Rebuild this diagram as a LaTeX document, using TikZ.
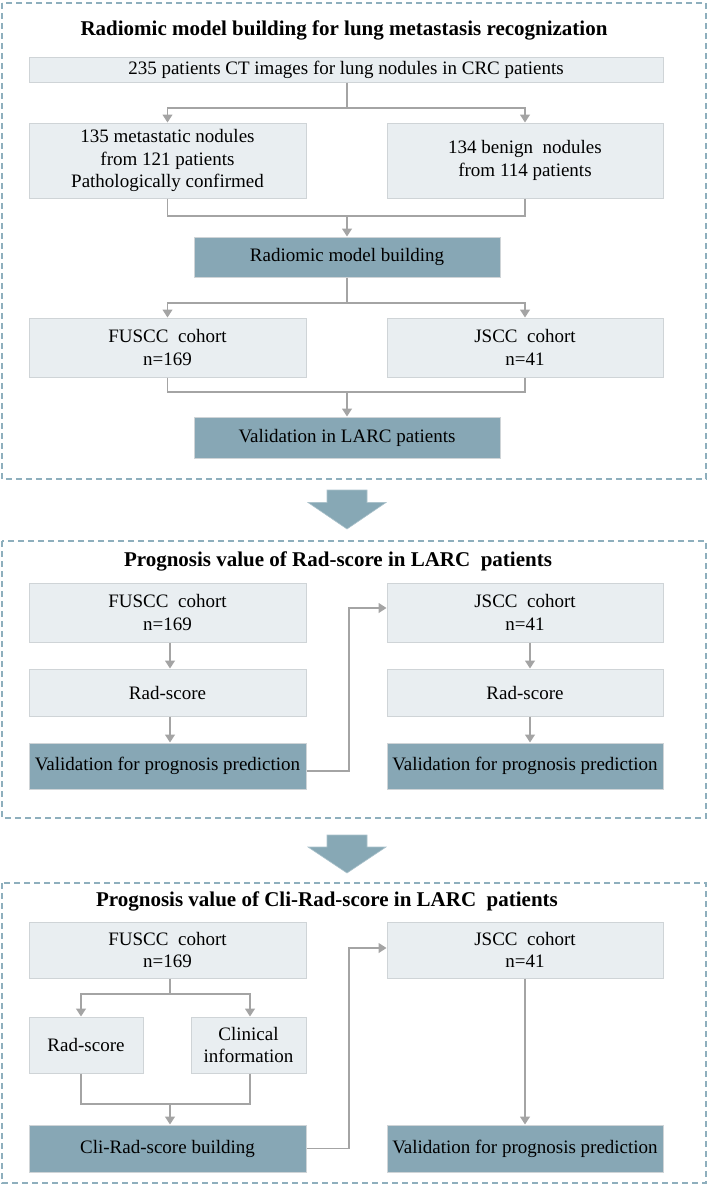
\documentclass[tikz,border=0pt]{standalone}
\usepackage{fontspec}
\setmainfont{Liberation Serif}
\usetikzlibrary{arrows.meta}
\definecolor{lightfill}{HTML}{E9EEF1}
\definecolor{darkfill}{HTML}{87A7B5}
\definecolor{boxline}{HTML}{CFD4D7}
\definecolor{dashcol}{HTML}{8EAFBD}
\definecolor{conngray}{HTML}{A4A4A4}
\definecolor{bigarrow}{HTML}{87A8B5}
\tikzset{
  lbox/.style={draw=boxline, fill=lightfill, line width=1pt, inner sep=0pt, align=center,
    font=\fontsize{19}{22.5}\selectfont},
  dbox/.style={lbox, fill=darkfill},
  conn/.style={draw=conngray, line width=1.2pt},
  arr/.style={conn, -{Triangle[width=10pt,length=8pt]}},
  frame/.style={draw=dashcol, line width=1.3pt, dash pattern=on 6pt off 4pt},
  ttl/.style={font=\fontsize{21}{25}\selectfont\bfseries, inner sep=0pt},
  bigarr/.style={fill=bigarrow, draw=bigarrow!70!white, line width=0.6pt},
}
\begin{document}
\begin{tikzpicture}[x=1pt,y=-1pt]
\useasboundingbox (0,0) rectangle (709,1186);
% ---------- Section 1 ----------
\draw[frame] (2,3) rectangle (706,479);
\node[ttl] (t1) at (344,30) {Radiomic model building for lung metastasis recognization};
\node[lbox, minimum width=634pt, minimum height=25pt] (top) at (346,69.5) {235 patients CT images for lung nodules in CRC patients};
\node[lbox, minimum width=277pt, minimum height=75pt] (meta) at (167.5,160.5) {135 metastatic nodules\\from 121 patients\\Pathologically confirmed};
\node[lbox, minimum width=276pt, minimum height=75pt] (benign) at (525,160.5) {134 benign\ \ nodules\\from 114 patients};
\node[dbox, minimum width=306pt, minimum height=40pt] (radb) at (347,257) {Radiomic model building};
\node[lbox, minimum width=277pt, minimum height=59pt] (fus1) at (167.5,347.5) {FUSCC\ \ cohort\\n=169};
\node[lbox, minimum width=276pt, minimum height=59pt] (js1) at (525,347.5) {JSCC\ \ cohort\\n=41};
\node[dbox, minimum width=306pt, minimum height=41pt] (val1) at (347,437.5) {Validation in LARC patients};
\coordinate (s1) at (347,108);
\coordinate (m1) at (347,216);
\coordinate (s2) at (347,303);
\coordinate (m2) at (347,392);
\draw[conn] (top.south -| s1) -- (s1);
\draw[arr] (s1) -| (meta.north);
\draw[arr] (s1) -| (benign.north);
\draw[conn] (meta.south) |- (m1);
\draw[conn] (benign.south) |- (m1);
\draw[arr] (m1) -- (radb.north);
\draw[conn] (radb.south) -- (s2);
\draw[arr] (s2) -| (fus1.north);
\draw[arr] (s2) -| (js1.north);
\draw[conn] (fus1.south) |- (m2);
\draw[conn] (js1.south) |- (m2);
\draw[arr] (m2) -- (val1.north);
% big arrow 1
\filldraw[bigarr] (327,490) -- (367,490) -- (367,502.5) -- (386,502.5) -- (347,529) -- (308,502.5) -- (327,502.5) -- cycle;
% ---------- Section 2 ----------
\draw[frame] (2,541) rectangle (706,818);
\node[ttl] (t2) at (338,561) {Prognosis value of Rad-score in LARC\ \ patients};
\node[lbox, minimum width=277pt, minimum height=59pt] (fus2) at (167.5,612.5) {FUSCC\ \ cohort\\n=169};
\node[lbox, minimum width=277pt, minimum height=47pt] (rad2l) at (167.5,692.5) {Rad-score};
\node[dbox, minimum width=277pt, minimum height=46pt] (val2l) at (167.5,766) {Validation for prognosis prediction};
\node[lbox, minimum width=276pt, minimum height=59pt] (js2) at (525,612.5) {JSCC\ \ cohort\\n=41};
\node[lbox, minimum width=276pt, minimum height=47pt] (rad2r) at (525,692.5) {Rad-score};
\node[dbox, minimum width=276pt, minimum height=46pt] (val2r) at (525,766) {Validation for prognosis prediction};
\draw[arr] ([xshift=2.5pt]fus2.south) -- ([xshift=2.5pt]rad2l.north);
\draw[arr] ([xshift=2.5pt]rad2l.south) -- ([xshift=2.5pt]val2l.north);
\draw[arr] ([xshift=5pt]js2.south) -- ([xshift=5pt]rad2r.north);
\draw[arr] ([xshift=5pt]rad2r.south) -- ([xshift=5pt]val2r.north);
\coordinate (c2) at (349,771);
\draw[arr] ([yshift=-5pt]val2l.east) -- (c2) |- ([yshift=4.5pt]js2.west);
% big arrow 2
\filldraw[bigarr] (327,835) -- (367,835) -- (367,847) -- (386,847) -- (347,873) -- (308,847) -- (327,847) -- cycle;
% ---------- Section 3 ----------
\draw[frame] (2,883) rectangle (706,1183);
\node[ttl] (t3) at (327,901) {Prognosis value of Cli-Rad-score in LARC\ \ patients};
\node[lbox, minimum width=277pt, minimum height=56pt] (fus3) at (167.5,950) {FUSCC\ \ cohort\\n=169};
\node[lbox, minimum width=114pt, minimum height=56pt] (rad3) at (86,1045) {Rad-score};
\node[lbox, minimum width=115pt, minimum height=56pt] (clin3) at (248.5,1045) {Clinical\\information};
\node[dbox, minimum width=277pt, minimum height=47pt] (cli3) at (167.5,1148.5) {Cli-Rad-score building};
\node[lbox, minimum width=276pt, minimum height=56pt] (js3) at (525,950) {JSCC\ \ cohort\\n=41};
\node[dbox, minimum width=276pt, minimum height=47pt] (val3) at (525,1148.5) {Validation for prognosis prediction};
\coordinate (s3) at (170,994);
\coordinate (m3) at (170,1104);
\draw[conn] ([xshift=2.5pt]fus3.south) -- (s3);
\draw[arr] (s3) -| ([xshift=-5pt]rad3.north);
\draw[arr] (s3) -| ([xshift=1.5pt]clin3.north);
\draw[conn] ([xshift=-5pt]rad3.south) |- (m3);
\draw[conn] ([xshift=1.5pt]clin3.south) |- (m3);
\draw[arr] (m3) -- (m3 |- cli3.north);
\coordinate (c3) at (349,1148.5);
\draw[arr] (cli3.east) -- (c3) |- ([yshift=2pt]js3.west);
\draw[arr] (js3.south) -- (val3.north);
\end{tikzpicture}
\end{document}
